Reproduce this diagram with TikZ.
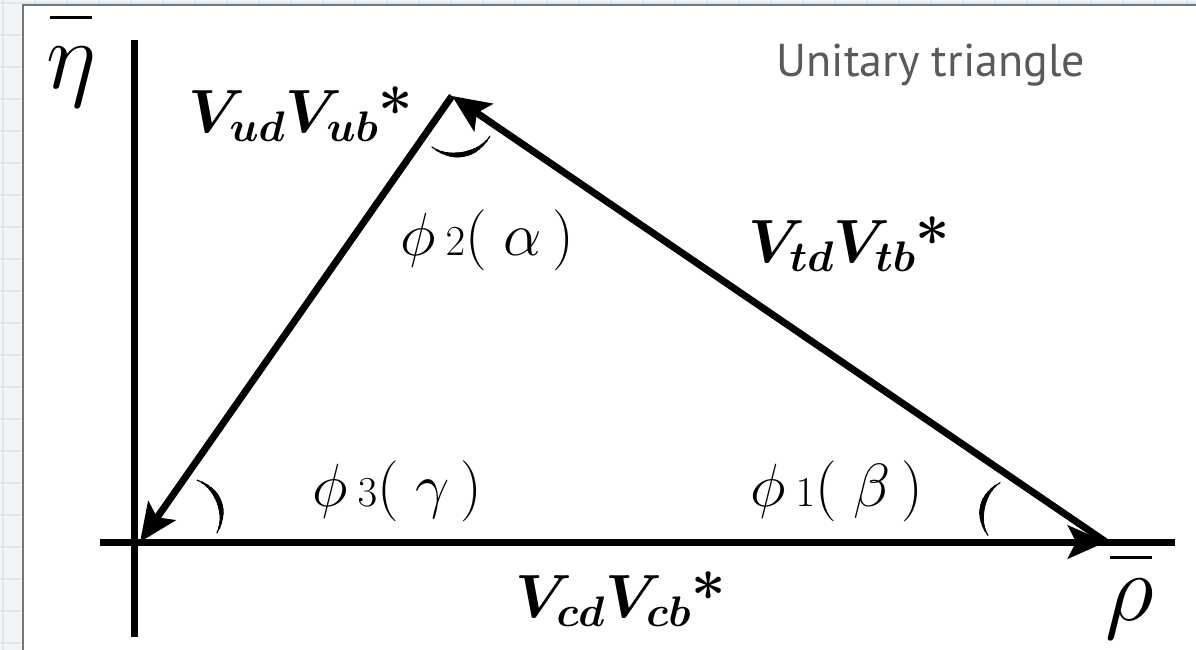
\RequirePackage{fix-cm}
\documentclass[tikz,border=0pt]{standalone}
\usepackage{fontspec}
\usepackage{bm}
\usetikzlibrary{arrows.meta,calc}
\newfontfamily\uifont{PT Sans}
\definecolor{bggray}{HTML}{F3F4F5}
\definecolor{gridblue}{HTML}{DCE8F1}
\definecolor{framegray}{HTML}{767676}
\definecolor{titlegray}{HTML}{5A5A5A}
\newcommand{\crescent}[4]{% center, start, end, radius
  \foreach \fr/\lw in {0/1.2,0.08/2,0.16/2.8,0.24/3.6,0.31/4.4,0.38/5}{
    \pgfmathsetmacro{\sA}{#2+\fr*(#3-#2)}
    \pgfmathsetmacro{\eA}{#3-\fr*(#3-#2)}
    \draw[line width=\lw pt,line cap=round] ($(#1)+(\sA:#4pt)$) arc[start angle=\sA,end angle=\eA,radius=#4pt];
  }
}
\begin{document}
\begin{tikzpicture}[x=1pt,y=-1pt,
  vec/.style={line width=7pt,-{Stealth[length=38pt,width=33pt,inset=8pt]}},
  axisline/.style={line width=7pt},
  barline/.style={line width=3pt},
  cmk/.style={inner sep=0pt, font=\fontsize{61}{61}\selectfont},
  phil/.style={inner sep=0pt, font=\fontsize{61}{61}\selectfont},
  greek/.style={inner sep=0pt, font=\fontsize{96}{96}\selectfont}]
\useasboundingbox (0,0) rectangle (1196,650);
\fill[bggray] (0,0) rectangle (1196,650);
\foreach \g in {3,35,...,1196} \draw[gridblue,line width=1.5pt] (\g,0) -- (\g,650);
\foreach \g in {3,35,...,650} \draw[gridblue,line width=1.5pt] (0,\g) -- (1196,\g);
\draw[framegray,fill=white,line width=2pt] (23,5) rectangle (1210,670);
% vertices
\coordinate (O) at (140,542);
\coordinate (A) at (452,96);
\coordinate (R) at (1106,542);
\coordinate (yb) at (134,637);
\coordinate (yt) at (134,40);
\coordinate (xl) at (100,542);
\coordinate (xr) at (1175,542);
% arc centres
\coordinate (cO) at (184.5,515);
\coordinate (cA) at (456,115);
\coordinate (cR) at (1018.6,514.7);
% axes
\draw[axisline] (yb) -- (yt);
\draw[axisline] (xl) -- (xr);
% triangle
\draw[vec] (O) -- (R);
\draw[vec] (R) -- (A);
\draw[vec] (A) -- (O);
% angle arcs
\crescent{cO}{-29}{70}{37}
\crescent{cA}{-127}{-32}{40}
\crescent{cR}{120}{214}{37}
% axis labels
\node[greek,anchor=base] (eta) at (71,89) {$\eta$};
\draw[barline] (50,18) -- (92,18);
\node[greek,anchor=base] (rho) at (1130,620) {$\rho$};
\draw[barline] (1110,557) -- (1152,557);
% side labels
\node[cmk,anchor=base west] (vub) at (188,132) {$\bm{V_{ud}V_{ub}}$\textbf{*}};
\node[cmk,anchor=base west] (vtb) at (748,262) {$\bm{V_{td}V_{tb}}$\textbf{*}};
\node[cmk,anchor=base west] (vcb) at (515,617) {$\bm{V_{cd}V_{cb}}$\textbf{*}};
% angle labels
\node[phil,anchor=base west] (alpha) at (400,255) {$\phi\,{\scriptstyle 2}(\;\alpha\,)$};
\node[phil,anchor=base west] (gamma) at (312,506) {$\phi\,{\scriptstyle 3}(\;\gamma\,)$};
\node[phil,anchor=base west] (beta) at (750,506) {$\phi\,{\scriptstyle 1}(\;\beta\,)$};
% title
\node[anchor=base east, inner sep=0pt, font=\uifont\fontsize{46}{46}\selectfont, text=titlegray] (title) at (1085,77) {Unitary triangle};
\end{tikzpicture}
\end{document}
